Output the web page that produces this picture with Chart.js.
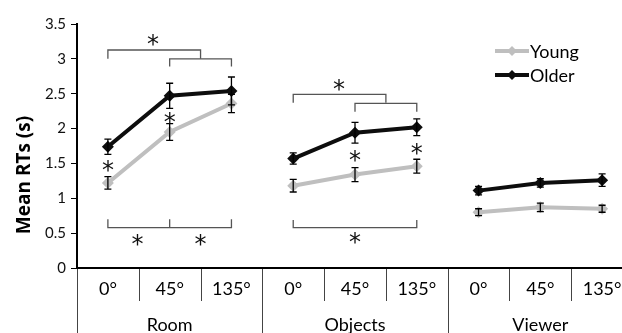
<!DOCTYPE html>
<html>
<head>
<meta charset="utf-8">
<script src="https://cdn.jsdelivr.net/npm/chart.js@4"></script>
<style>
  html, body { margin: 0; padding: 0; background: #fff; overflow: hidden; }
  #wrap { width: 640px; height: 333px; position: relative; }
</style>
</head>
<body>
<div id="wrap"><canvas id="rtChart"></canvas></div>
<script>
(function () {
	'use strict';

	// data
	var categories = ['0°', '45°', '135°', '0°', '45°', '135°', '0°', '45°', '135°'];
	var groups = ['Room', 'Objects', 'Viewer'];
	var young = [1.22, 1.95, 2.36, 1.18, 1.34, 1.46, 0.80, 0.87, 0.85];
	var youngErr = [0.09, 0.12, 0.13, 0.09, 0.10, 0.10, 0.05, 0.06, 0.05];
	var older = [1.74, 2.47, 2.54, 1.57, 1.94, 2.02, 1.11, 1.22, 1.26];
	var olderErr = [0.11, 0.18, 0.20, 0.08, 0.15, 0.12, 0.06, 0.06, 0.09];
	var yTicks = [0, 0.5, 1, 1.5, 2, 2.5, 3, 3.5];

	// significance brackets: x in category index, y in seconds
	var brackets = [
		{ from: 0, to: 1.5, y: 3.127, end: 3.0, mids: [] },
		{ from: 1, to: 2, y: 3.0, end: 2.89, mids: [] },
		{ from: 0, to: 2, y: 0.578, end: 0.70, mids: [1] },
		{ from: 3, to: 4.5, y: 2.49, end: 2.37, mids: [] },
		{ from: 4, to: 5, y: 2.36, end: 2.24, mids: [] },
		{ from: 3, to: 5, y: 0.58, end: 0.69, mids: [] }
	];
	var stars = [
		[0.73, 3.27], [0, 1.47], [1, 2.15], [0.48, 0.40], [1.5, 0.40],
		[3.74, 2.63], [4, 1.61], [5, 1.70], [4, 0.43]
	];

	var FONT = 'Lato, "Open Sans", sans-serif';
	var YOUNG_COL = '#bfbfbf';
	var OLDER_COL = '#0d0d0d';

	function gapSegment(col) {
		return function (ctx) {
			return (ctx.p0DataIndex === 2 || ctx.p0DataIndex === 5) ? 'rgba(0,0,0,0)' : col;
		};
	}

	var decorPlugin = {
		id: 'decor',
		afterDatasetsDraw: function (chart) {
			var c = chart.ctx;
			var xs = chart.scales.x, ys = chart.scales.y;
			var area = chart.chartArea;

			// error bars
			c.save();
			c.strokeStyle = '#000';
			c.lineWidth = 1.3;
			[[young, youngErr], [older, olderErr]].forEach(function (pair) {
				pair[0].forEach(function (v, i) {
					var x = xs.getPixelForValue(i);
					var yt = ys.getPixelForValue(v + pair[1][i]);
					var yb = ys.getPixelForValue(v - pair[1][i]);
					c.beginPath();
					c.moveTo(x, yt); c.lineTo(x, yb);
					c.moveTo(x - 3.5, yt); c.lineTo(x + 3.5, yt);
					c.moveTo(x - 3.5, yb); c.lineTo(x + 3.5, yb);
					c.stroke();
				});
			});

			// brackets
			c.strokeStyle = '#555';
			c.lineWidth = 1.3;
			brackets.forEach(function (b) {
				var x0 = xs.getPixelForValue(b.from);
				var x1 = xs.getPixelForValue(b.to);
				var y = ys.getPixelForValue(b.y);
				var ye = ys.getPixelForValue(b.end);
				c.beginPath();
				c.moveTo(x0, ye); c.lineTo(x0, y); c.lineTo(x1, y); c.lineTo(x1, ye);
				b.mids.forEach(function (m) {
					var xm = xs.getPixelForValue(m);
					c.moveTo(xm, y); c.lineTo(xm, ye);
				});
				c.stroke();
			});

			// asterisks
			c.fillStyle = '#111';
			c.font = '24px "DejaVu Sans", sans-serif';
			c.textAlign = 'center';
			c.textBaseline = 'alphabetic';
			stars.forEach(function (s) {
				var m = c.measureText('*');
				var x = xs.getPixelForValue(s[0]);
				var y = ys.getPixelForValue(s[1]);
				c.fillText('*', x, y + (m.actualBoundingBoxAscent - m.actualBoundingBoxDescent) / 2);
			});

			// category dividers under the axis
			c.strokeStyle = '#444';
			c.lineWidth = 1;
			for (var k = 0; k <= categories.length; k++) {
				var xd = Math.round(xs.getPixelForValue(k - 0.5)) + 0.5;
				var long = (k % 3 === 0);
				c.beginPath();
				c.moveTo(xd, area.bottom + 1);
				c.lineTo(xd, long ? chart.height : area.bottom + 33);
				c.stroke();
			}

			// category and group labels
			c.fillStyle = '#000';
			c.textAlign = 'center';
			c.textBaseline = 'middle';
			c.font = '18px ' + FONT;
			categories.forEach(function (lab, i) {
				c.fillText(lab, xs.getPixelForValue(i), area.bottom + 21);
			});
			groups.forEach(function (g, j) {
				c.fillText(g, xs.getPixelForValue(j * 3 + 1), area.bottom + 57);
			});

			// y axis title
			c.save();
			c.translate(25, 175);
			c.rotate(-Math.PI / 2);
			c.font = 'bold 19px "Open Sans", sans-serif';
			c.fillText('Mean RTs (s)', 0, 0);
			c.restore();

			// legend
			[['Young', YOUNG_COL, 51], ['Older', OLDER_COL, 75]].forEach(function (e) {
				c.strokeStyle = e[1];
				c.lineWidth = 4;
				c.beginPath();
				c.moveTo(495, e[2]); c.lineTo(529, e[2]);
				c.stroke();
				c.fillStyle = e[1];
				c.beginPath();
				c.moveTo(512, e[2] - 5); c.lineTo(517, e[2]); c.lineTo(512, e[2] + 5); c.lineTo(507, e[2]);
				c.closePath();
				c.fill();
				c.fillStyle = '#000';
				c.textAlign = 'left';
				c.font = '18px ' + FONT;
				c.fillText(e[0], 530, e[2] + 1);
			});
			c.restore();
		}
	};

	var rtChart = new Chart(document.getElementById('rtChart').getContext('2d'), {
		type: 'line',
		data: {
			labels: categories,
			datasets: [{
				label: 'Young',
				data: young,
				borderColor: YOUNG_COL,
				backgroundColor: YOUNG_COL,
				borderWidth: 4,
				pointStyle: 'rectRot',
				pointRadius: 6,
				pointBorderWidth: 0,
				segment: { borderColor: gapSegment(YOUNG_COL) }
			}, {
				label: 'Older',
				data: older,
				borderColor: OLDER_COL,
				backgroundColor: OLDER_COL,
				borderWidth: 4,
				pointStyle: 'rectRot',
				pointRadius: 6,
				pointBorderWidth: 0,
				segment: { borderColor: gapSegment(OLDER_COL) }
			}]
		},
		options: {
			responsive: true,
			maintainAspectRatio: false,
			animation: false,
			layout: { padding: { top: 24, right: 7, left: 0, bottom: 0 } },
			plugins: { legend: { display: false }, tooltip: { enabled: false } },
			scales: {
				x: {
					type: 'category',
					offset: true,
					grid: { display: false },
					border: { display: true, color: '#000', width: 2 },
					ticks: { display: false },
					afterFit: function (scale) { scale.height = 65; }
				},
				y: {
					min: 0,
					max: 3.5,
					afterBuildTicks: function (scale) {
						scale.ticks = yTicks.map(function (v) { return { value: v }; });
					},
					grid: { drawOnChartArea: false, drawTicks: true, tickLength: 6, color: '#000', lineWidth: 1 },
					border: { display: true, color: '#000', width: 2 },
					ticks: {
						color: '#111',
						padding: 5,
						font: { family: FONT, size: 15 },
						callback: function (v) { return String(v); }
					},
					afterFit: function (scale) { scale.width = 77; }
				}
			}
		},
		plugins: [decorPlugin]
	});
})();
</script>
</body>
</html>
